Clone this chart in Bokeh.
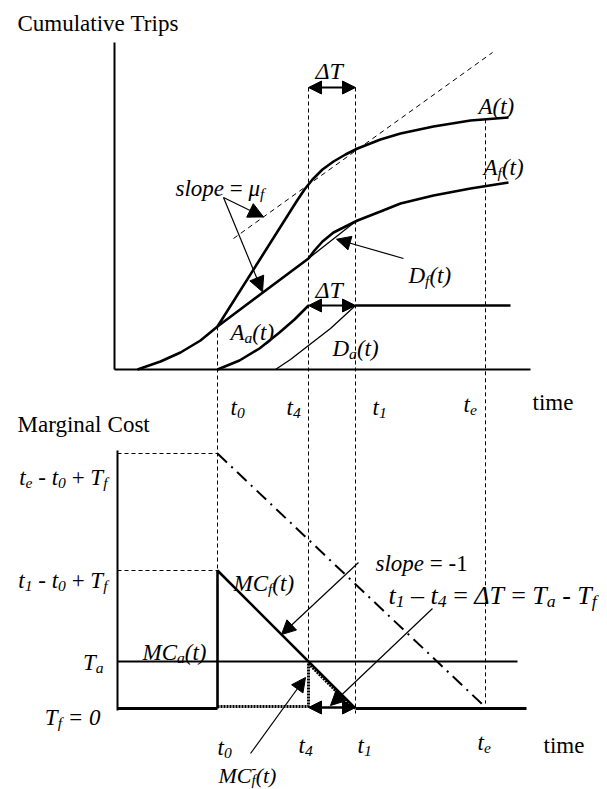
from bokeh.plotting import figure
from bokeh.models import Range1d, Arrow, NormalHead
from bokeh.core.properties import value
from bokeh.embed import file_html
from bokeh.resources import INLINE

# ---------------- schematic values ----------------
# time instants, measured from the origin of the time axis
T_START = 23      # first arrival
T0 = 103          # t0
T_DA = 161        # first departure of the a-group
T4 = 194          # t4
T1 = 241          # t1
TE = 371          # te
T_END = 396       # right end of the drawn curves
T_AXIS = 416      # length of the time axis
TRIPS_AXIS = 327  # height of the cumulative-trips axis

# cumulative arrivals A(t)
a_time = [23, 46, 66, 86, 103, 182, 190, 198, 208, 219, 231, 243, 266, 286, 319, 356, 394]
a_trips = [0, 8, 17, 29, 43, 168, 180, 190, 200, 208, 215, 221, 230, 236, 243, 249, 252]
# cumulative arrivals of the f-group A_f(t)
af_time = [103, 194, 200, 208, 219, 231, 243, 266, 286, 319, 356, 394]
af_trips = [43, 111, 119, 128, 137, 143, 149, 158, 166, 174, 181, 187]
# departures of the f-group D_f(t)
df_time = [194, 241]
df_trips = [111, 148]
# cumulative arrivals of the a-group A_a(t)
aa_time = [103, 125, 145, 165, 180, 194]
aa_trips = [0, 9, 21, 37, 50, 64]
AA_MAX = 64
# departures of the a-group D_a(t)
da_time = [161, 176, 194, 216, 241]
da_trips = [0, 10, 24, 41, 64]
# line with slope mu_f
mu_time = [119, 378]
mu_trips = [131, 317]
DT_LEVEL = 282    # height of the upper delta-T marker

# marginal cost (Tf = 0)
TF = 0
TA = T1 - T4          # Ta - Tf = t1 - t4
C_L1 = T1 - T0        # t1 - t0 + Tf
C_LE = 255            # te - t0 + Tf
COST_AXIS = 258
mcf_time = [T0, T0, T1]
mcf_cost = [TF, C_L1, TF]
mce_time = [T0, 368]
mce_cost = [C_LE, 4]
mcm_time = [T0, T4, T4]
mcm_cost = [2, 2, TA - 2]
mcm_slope_time = [T4, T1 - 3]
mcm_slope_cost = [TA - 2, 1]

# ---------------- layout ----------------
W, H = 607, 789
ORIGIN_X = 114        # page x of time zero
UPPER_BASE = 369      # page y of zero trips
LOWER_BASE = 708      # page y of zero cost
LOWER_AXIS_T = 3      # time of the marginal-cost axis
FONT = "Liberation Serif"


def X(ts):
    return [ORIGIN_X + t for t in ts]


def YU(vs):
    return [UPPER_BASE - v for v in vs]


def YL(vs):
    return [LOWER_BASE - v for v in vs]


def interp(xs, ys, x):
    for i in range(len(xs) - 1):
        if xs[i] <= x <= xs[i + 1]:
            f = (x - xs[i]) / (xs[i + 1] - xs[i])
            return ys[i] + f * (ys[i + 1] - ys[i])
    return ys[-1]


p = figure(width=W, height=H, x_range=Range1d(0, W), y_range=Range1d(H, 0),
           output_backend="svg", toolbar_location=None, min_border=0,
           x_axis_type=None, y_axis_type=None)
p.grid.grid_line_color = None
p.outline_line_color = None
p.background_fill_color = "white"
p.border_fill_color = "white"

K = "black"


def line(xs, ys, w=2.0, dash="solid"):
    p.line(xs, ys, line_color=K, line_width=w, line_dash=dash)


def arrow(x0, y0, x1, y1, size=12, w=1.2, both=False):
    head = dict(size=size, fill_color=K, line_color=K, line_width=1)
    p.add_layout(Arrow(start=NormalHead(**head) if both else None,
                       end=NormalHead(**head),
                       x_start=x0, y_start=y0, x_end=x1, y_end=y1,
                       line_color=K, line_width=w))


# ---------------- upper panel: cumulative trips ----------------
line(X([0, 0]), YU([0, TRIPS_AXIS]), 2)
line(X([0, T_AXIS]), YU([0, 0]), 2)

line(X(a_time), YU(a_trips), 2.6)
line(X(af_time), YU(af_trips), 2.6)
line(X(df_time), YU(df_trips), 1.3)
line(X(aa_time), YU(aa_trips), 2.6)
line(X([T1, T_END]), YU([AA_MAX, AA_MAX]), 2.6)
line(X(da_time), YU(da_trips), 1.3)
line(X(mu_time), YU(mu_trips), 1, "5 4")

# vertical guides through both panels
dash = "4 3"
line(X([T0, T0]), [YU([interp(a_time, a_trips, T0)])[0], YL([C_L1])[0]], 1, dash)
line(X([T4, T4]), [YU([DT_LEVEL])[0], YL([TA])[0]], 1, dash)
line(X([T1, T1]), [YU([DT_LEVEL])[0], YL([-5])[0]], 1, dash)
line(X([TE, TE]), [YU([interp(a_time, a_trips, TE)])[0], YL([5])[0]], 1, dash)

# delta-T markers
arrow(X([T4])[0], YU([DT_LEVEL])[0], X([T1])[0], YU([DT_LEVEL])[0], 13, 2.2, True)
arrow(X([T4])[0], YU([AA_MAX])[0], X([T1])[0], YU([AA_MAX])[0], 13, 2.2, True)

# pointers for slope = mu_f and D_f(t)
tip1_t, tip2_t = 149, 148
arrow(223, 197, X([tip1_t])[0], YU([interp(mu_time, mu_trips, tip1_t)])[0], 15, 1.2)
arrow(223, 197, X([tip2_t])[0], YU([interp(af_time, af_trips, tip2_t)])[0] - 1, 15, 1.2)
tip3_t = 221
arrow(403, 258, X([tip3_t])[0] + 1, YU([interp(df_time, df_trips, tip3_t)])[0] + 2, 14, 1.2)

# ---------------- lower panel: marginal cost ----------------
line(X([LOWER_AXIS_T, LOWER_AXIS_T]), YL([-2, COST_AXIS]), 2)
line(X([LOWER_AXIS_T, T0]), YL([TF, TF]), 3)
line(X([T1, 412]), YL([TF, TF]), 3)
line(X([LOWER_AXIS_T, 403]), YL([TA, TA]), 2)
line(X([LOWER_AXIS_T, T0]), YL([C_LE, C_LE]), 1, dash)
line(X([LOWER_AXIS_T, T0]), YL([C_L1, C_L1]), 1, dash)

line(X(mcf_time), YL(mcf_cost), 2.6)
line(X(mce_time), YL(mce_cost), 2, "13 6 2 6")
line(X(mcm_time), YL(mcm_cost), 3, "2 1")
line(X(mcm_slope_time), YL(mcm_slope_cost), 3, "2 1")

# delta-T on the time axis
arrow(X([T4])[0], YL([1])[0], X([T1])[0], YL([1])[0], 13, 2.6, True)

# pointers
tip4_t = 167
arrow(358, 562, X([tip4_t])[0], YL([T1 - tip4_t])[0], 14, 1.2)
arrow(432, 608, X([216])[0], YL([3])[0], 14, 1.2)
arrow(250, 753, X([T4 - 3])[0], YL([31])[0], 14, 1.2)

# ---------------- text ----------------
REG = {' ': 250, '(': 333, ')': 333, '+': 564, '-': 333, '=': 564, '\u2013': 500,
       'A': 722, 'C': 667, 'D': 722, 'M': 889, 'T': 611, 'a': 444, 'c': 444,
       'e': 444, 'f': 333, 'g': 500, 'i': 278, 'l': 278, 'm': 778, 'n': 500,
       'o': 500, 'p': 500, 'r': 333, 's': 389, 't': 278, 'u': 500, 'v': 500,
       '\u0394': 612, '\u03bc': 500}
ITA = {' ': 250, '(': 333, ')': 333, '+': 675, '-': 333, '=': 675, '\u2013': 500,
       'A': 611, 'C': 667, 'D': 722, 'M': 833, 'T': 556, 'a': 500, 'c': 444,
       'e': 444, 'f': 278, 'g': 500, 'i': 278, 'l': 278, 'm': 722, 'n': 500,
       'o': 500, 'p': 500, 'r': 389, 's': 389, 't': 278, 'u': 500, 'v': 444,
       '\u0394': 612, '\u03bc': 500}


def rich(x, y, runs, size=23, align="left"):
    """Draw a label made of runs (text, kind, italic); kind is '', 'sub' or 'sup0'.
    Spaces are turned into horizontal advances so that none are collapsed."""
    pieces = []
    cx = 0.0
    for txt, kind, ital in runs:
        fs = size if kind == "" else size * 0.68
        if kind == "sub":
            dy = 0.22 * size
        elif kind == "sup0":
            dy = -0.36 * size
        else:
            dy = 0.0
        table = ITA if ital else REG
        start = cx
        words = txt.split(" ")
        for i, wd in enumerate(words):
            if i > 0:
                cx += 250 / 1000.0 * fs
            if wd:
                pieces.append((cx, dy, wd, fs, ital))
                cx += sum(table.get(ch, 500) for ch in wd) / 1000.0 * fs
        if kind == "sup0":
            cx = start
    x0 = x - cx if align == "right" else x
    for ox, dy, txt, fs, ital in pieces:
        p.text(x=[x0 + ox], y=[y + dy], text=[txt], text_font=value(FONT),
               text_font_size=f"{fs:.1f}px",
               text_font_style="italic" if ital else "normal",
               text_baseline="alphabetic", text_align="left", text_color=K)


I, R = True, False


def tsub(s):
    return [("t", "", I), (s, "sub", I)]


rich(17, 23, [("Cumulative Trips", "", R)])
rich(17, 424, [("Marginal Cost", "", R)])
rich(532, 402, [("time", "", R)])
rich(543, 745, [("time", "", R)])

for xx, yy, s in [(230, 407, "0"), (286, 407, "4"), (372, 407, "1"), (463, 404, "e"),
                  (217, 747, "0"), (298, 745, "4"), (357, 745, "1"), (477, 742, "e")]:
    rich(xx, yy, tsub(s))

rich(315, 70, [("\u0394T", "", I)], 24)
rich(315, 289, [("\u0394T", "", I)], 24)
rich(478, 106, [("A(t)", "", I)])
rich(483, 167, [("A", "", I), ("f", "sub", I), ("(t)", "", I)])
rich(175, 188, [("slope", "", I), (" = ", "", R), ("\u03bc", "", I), ("f", "sub", I)])
rich(408, 275, [("D", "", I), ("f", "sub", I), ("(t)", "", I)])
rich(230, 332, [("A", "", I), ("a", "sub", I), ("(t)", "", I)])
rich(332, 348, [("D", "", I), ("a", "sub", I), ("(t)", "", I)])

rich(107, 477, tsub("e") + [(" - ", "", R)] + tsub("0") + [(" + ", "", R), ("T", "", I), ("f", "sub", I)], align="right")
rich(107, 580, tsub("1") + [(" - ", "", R)] + tsub("0") + [(" + ", "", R), ("T", "", I), ("f", "sub", I)], align="right")
rich(103, 662, [("T", "", I), ("a", "sub", I)], align="right")
rich(100, 717, [("T", "", I), ("f", "sub", I), (" = 0", "", I)], align="right")

rich(233, 583, [("MC", "", I), ("f", "sub", I), ("(t)", "", I)])
rich(142, 652, [("MC", "", I), ("a", "sub", I), ("(t)", "", I)])
rich(218, 775, [("MC", "", I), ("-", "sup0", R), ("f", "sub", I), ("(t)", "", I)], 22)
rich(375, 563, [("slope", "", I), (" = -1", "", R)])
rich(388, 595, tsub("1") + [(" \u2013 ", "", R)] + tsub("4") +
     [(" = ", "", R), ("\u0394T", "", I), (" = ", "", R), ("T", "", I), ("a", "sub", I),
      (" - ", "", R), ("T", "", I), ("f", "sub", I)], 26)

open("out.html", "w").write(file_html(p, INLINE))
